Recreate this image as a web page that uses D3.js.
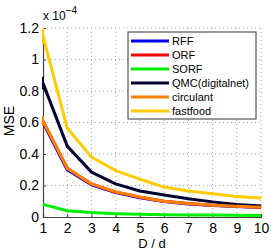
<!DOCTYPE html>
<html>
<head>
<meta charset="utf-8">
<script src="https://cdn.jsdelivr.net/npm/d3@7"></script>
<style>
  body { margin: 0; background: #fff; }
  svg text { font-family: "Liberation Sans", Arial, sans-serif; fill: #000; }
</style>
</head>
<body>
<div id="chart"></div>
<script>
const ratios = [1, 2, 3, 4, 5, 6, 7, 8, 9, 10];
const yTicks = [0, 0.2, 0.4, 0.6, 0.8, 1, 1.2];

// MSE values in units of 1e-4
const rff = [0.60, 0.30, 0.205, 0.155, 0.122, 0.098, 0.083, 0.073, 0.066, 0.060];
const orf = [0.61, 0.31, 0.21, 0.158, 0.126, 0.100, 0.085, 0.075, 0.068, 0.062];
const sorf = [0.08, 0.04, 0.028, 0.021, 0.017, 0.015, 0.013, 0.012, 0.011, 0.010];
const qmc = [0.85, 0.45, 0.285, 0.21, 0.165, 0.14, 0.116, 0.096, 0.08, 0.07];
const circulant = [0.61, 0.31, 0.21, 0.16, 0.127, 0.10, 0.085, 0.075, 0.068, 0.062];
const fastfood = [1.15, 0.565, 0.38, 0.295, 0.24, 0.19, 0.165, 0.148, 0.13, 0.12];

// error bar half-heights (1e-4)
const qmcErr = [0.04, 0.01, 0.005, 0.004, 0.003, 0.003, 0.002, 0.002, 0.002, 0.002];
const circErr = [0.03, 0.01, 0.005, 0.004, 0.003, 0.003, 0.002, 0.002, 0.002, 0.002];
const ffErr = [0.05, 0.012, 0.008, 0.006, 0.004, 0.003, 0.003, 0.002, 0.002, 0.002];

const series = [
    {name: "RFF", values: rff, color: "#0000ff"},
    {name: "ORF", values: orf, color: "#ff0000"},
    {name: "SORF", values: sorf, color: "#00ee00"},
    {name: "QMC(digitalnet)", values: qmc, err: qmcErr, color: "#000033"},
    {name: "circulant", values: circulant, err: circErr, color: "#ff7f00"},
    {name: "fastfood", values: fastfood, err: ffErr, color: "#ffcc00"}
];

const width = 274, height = 252;
const margin = {top: 28, right: 13, bottom: 35, left: 43};

const svg = d3.select("#chart").append("svg")
    .attr("width", width)
    .attr("height", height);

const x = d3.scaleLinear().domain([1, 10]).range([margin.left, width - margin.right]);
const y = d3.scaleLinear().domain([0, 1.2]).range([height - margin.bottom, margin.top]);

// dotted grid
const grid = svg.append("g").attr("stroke", "#b0b0b0").attr("stroke-dasharray", "1,3").attr("stroke-width", 1);
grid.selectAll(".gx").data(ratios.slice(1)).enter().append("line")
    .attr("x1", d => x(d)).attr("x2", d => x(d))
    .attr("y1", y(0)).attr("y2", y(1.2));
grid.selectAll(".gy").data(yTicks.slice(1)).enter().append("line")
    .attr("x1", x(1)).attr("x2", x(10))
    .attr("y1", d => y(d)).attr("y2", d => y(d));

// axes
const xAxis = svg.append("g")
    .attr("transform", `translate(0, ${y(0)})`)
    .call(d3.axisBottom(x).tickValues(ratios).tickSize(-3).tickPadding(6).tickFormat(d3.format("d")));
const yAxis = svg.append("g")
    .attr("transform", `translate(${x(1)}, 0)`)
    .call(d3.axisLeft(y).tickValues(yTicks).tickSize(-3).tickPadding(4).tickFormat(d => d === 0 ? "0" : d3.format("")(d)));
[xAxis, yAxis].forEach(a => {
    a.select(".domain").attr("stroke", "#444").attr("stroke-width", 1.2);
    a.selectAll(".tick line").attr("stroke", "#444");
    a.selectAll(".tick text").attr("font-size", 14).attr("font-family", "Liberation Sans, Arial, sans-serif");
});

// lines
const line = d3.line().x((d, i) => x(ratios[i])).y(d => y(d));
const plot = svg.append("g");
series.forEach(s => {
    if (s.err) {
        plot.selectAll(null).data(s.values).enter().append("line")
            .attr("x1", (d, i) => x(ratios[i])).attr("x2", (d, i) => x(ratios[i]))
            .attr("y1", (d, i) => y(Math.min(1.2, d + s.err[i])))
            .attr("y2", (d, i) => y(d - s.err[i]))
            .attr("stroke", s.color).attr("stroke-width", 2);
    }
    plot.append("path")
        .datum(s.values)
        .attr("d", line)
        .attr("fill", "none")
        .attr("stroke", s.color)
        .attr("stroke-width", 3)
        .attr("stroke-linejoin", "round");
});

// exponent label
const expo = svg.append("text").attr("x", x(1)).attr("y", 20).attr("font-size", 12);
expo.append("tspan").text("x 10");
expo.append("tspan").attr("dy", -6).attr("font-size", 10).text("\u22124");

// axis titles
svg.append("text")
    .attr("transform", `translate(14, 121) rotate(-90)`)
    .attr("text-anchor", "middle")
    .attr("font-size", 14)
    .text("MSE");
svg.append("text")
    .attr("x", (x(1) + x(10)) / 2)
    .attr("y", 248)
    .attr("text-anchor", "middle")
    .attr("font-size", 13)
    .text("D / d");

// legend
const legend = svg.append("g").attr("transform", "translate(128, 32)");
legend.append("rect")
    .attr("width", 128).attr("height", 87)
    .attr("fill", "#fff").attr("stroke", "#333").attr("stroke-width", 1);
const items = legend.selectAll(".item").data(series).enter().append("g")
    .attr("transform", (d, i) => `translate(0, ${9 + i * 14})`);
items.append("line")
    .attr("x1", 3).attr("x2", 41)
    .attr("stroke", d => d.color).attr("stroke-width", 3);
items.append("text")
    .attr("x", 44).attr("y", 4)
    .attr("font-size", 11)
    .text(d => d.name);
</script>
</body>
</html>
